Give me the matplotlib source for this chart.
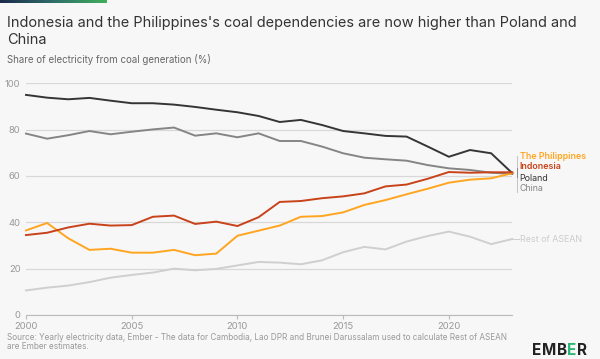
import numpy as np
import matplotlib.pyplot as plt

years = list(range(2000, 2024))
poland = [95.0, 93.8, 93.1, 93.7, 92.5, 91.4, 91.4, 90.8, 89.8, 88.6, 87.5, 85.9,
          83.3, 84.2, 82.0, 79.4, 78.4, 77.3, 77.0, 72.7, 68.3, 71.2, 69.8, 61.2]
china = [78.3, 76.1, 77.6, 79.4, 78.0, 79.1, 80.1, 80.9, 77.4, 78.4, 76.7, 78.4,
         75.1, 75.1, 72.7, 69.8, 67.9, 67.2, 66.6, 64.7, 63.3, 62.6, 61.4, 60.9]
indonesia = [34.5, 35.5, 37.8, 39.4, 38.6, 38.8, 42.4, 42.9, 39.3, 40.3, 38.4, 42.2,
             48.8, 49.2, 50.4, 51.2, 52.5, 55.5, 56.3, 58.8, 61.7, 61.4, 61.6, 61.6]
philippines = [36.5, 39.7, 33.1, 28.1, 28.6, 26.9, 26.9, 28.1, 25.8, 26.5, 34.2, 36.4,
               38.6, 42.4, 42.7, 44.3, 47.5, 49.6, 52.1, 54.5, 57.1, 58.4, 59.0, 61.2]
rest_asean = [10.6, 11.8, 12.7, 14.2, 16.1, 17.3, 18.3, 20.0, 19.3, 19.9, 21.4, 22.9,
              22.6, 21.9, 23.6, 27.1, 29.4, 28.3, 31.7, 34.1, 36.0, 33.8, 30.6, 32.8]

bg = '#f7f7f7'
plt.rcParams['font.family'] = ['Inter', 'DejaVu Sans']

fig = plt.figure(figsize=(6, 3.59), dpi=100, facecolor=bg)

# gradient bar top-left
gax = fig.add_axes([0, 1 - 3 / 359, 107 / 600, 3 / 359])
gax.imshow(np.linspace(0, 1, 100).reshape(1, -1), aspect='auto',
           cmap=plt.matplotlib.colors.LinearSegmentedColormap.from_list('g', ['#1c2b4b', '#2f6e6a', '#3fae5a']))
gax.axis('off')

fig.text(7 / 600, 1 - 27 / 359, "Indonesia and the Philippines's coal dependencies are now higher than Poland and",
         fontsize=10.45, color='#333333', va='baseline')
fig.text(7 / 600, 1 - 44 / 359, "China", fontsize=10.45, color='#333333', va='baseline')
fig.text(7 / 600, 1 - 63 / 359, "Share of electricity from coal generation (%)",
         fontsize=7.0, color='#666666', va='baseline')

ax = fig.add_axes([26 / 600, 44 / 359, 486.3 / 600, 231.7 / 359])
ax.set_facecolor(bg)
ax.set_xlim(2000, 2023)
ax.set_ylim(0, 100)
for s in ['top', 'right', 'left']:
    ax.spines[s].set_visible(False)
ax.spines['bottom'].set_color('#bbbbbb')
ax.spines['bottom'].set_linewidth(0.8)
ax.set_yticks([0, 20, 40, 60, 80, 100])
ax.set_xticks([2000, 2005, 2010, 2015, 2020])
ax.grid(axis='y', color='#d8d8d8', linewidth=0.9)
ax.tick_params(axis='y', length=0, pad=4, labelsize=6.8, labelcolor='#999999')
ax.tick_params(axis='x', length=3, color='#bbbbbb', pad=2, labelsize=6.8, labelcolor='#999999')

series = [
    (rest_asean, '#cfcfcf'),
    (china, '#858585'),
    (poland, '#353535'),
    (philippines, '#ffa51f'),
    (indonesia, '#c8421a'),
]
for vals, col in series:
    ax.plot(years, vals, color=col, linewidth=1.4, clip_on=False, solid_joinstyle='miter')

# right-side labels
lx = 2023.35
ax.plot([2023.2, 2023.2], [53.0, 68.6], color='#c4c4c4', lw=0.7, clip_on=False)
ax.plot([2023.2, 2023.2], [59.5, 63.5], color='#888888', lw=0.7, clip_on=False)
ax.text(lx, 68.6, 'The Philippines', color='#ffa51f', fontsize=6.4, fontweight='semibold', va='center', clip_on=False)
ax.text(lx, 63.9, 'Indonesia', color='#c8421a', fontsize=6.4, fontweight='semibold', va='center', clip_on=False)
ax.text(lx, 59.1, 'Poland', color='#353535', fontsize=6.4, va='center', clip_on=False)
ax.text(lx, 54.4, 'China', color='#858585', fontsize=6.4, va='center', clip_on=False)
ax.plot([2023.05, 2023.3], [rest_asean[-1], rest_asean[-1]], color='#cfcfcf', lw=0.7, clip_on=False)
ax.text(lx, rest_asean[-1], 'Rest of ASEAN', color='#cccccc', fontsize=6.4, va='center', clip_on=False)

fig.text(7 / 600, 1 - 349 / 359,
         "Source: Yearly electricity data, Ember - The data for Cambodia, Lao DPR and Brunei Darussalam used to calculate Rest of ASEAN\nare Ember estimates.",
         fontsize=5.9, color='#999999', va='baseline', linespacing=0.95)

# logo
logo_y = 1 - 355 / 359
x0 = 532 / 600
for ch, col in [('E', '#222222'), ('M', '#222222'), ('B', '#222222'), ('E', '#2bb673'), ('R', '#222222')]:
    t = fig.text(x0, logo_y, ch, fontsize=11, fontweight='bold', color=col, va='baseline')
    fig.canvas.draw()
    bb = t.get_window_extent()
    x0 += (bb.width + 0.5) / 600

fig.savefig('out.png', dpi=100, facecolor=bg)
